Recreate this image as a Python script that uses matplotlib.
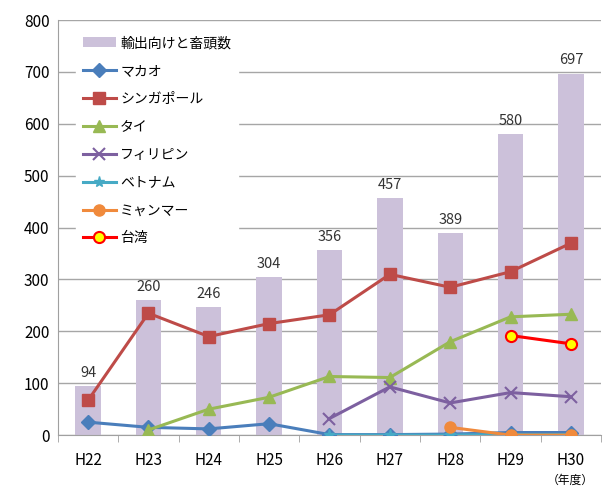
import numpy as np
import matplotlib.pyplot as plt

plt.rcParams['font.family'] = ['Noto Sans CJK JP', 'DejaVu Sans']

years = ['H22', 'H23', 'H24', 'H25', 'H26', 'H27', 'H28', 'H29', 'H30']
total = [94, 260, 246, 304, 356, 457, 389, 580, 697]

nan = np.nan
macau = [25, 15, 12, 22, 1, 1, 2, 5, 5]
singapore = [67, 235, 190, 215, 232, 310, 285, 315, 370]
thai = [nan, 10, 50, 73, 113, 111, 180, 228, 233]
philippines = [nan, nan, nan, nan, 32, 93, 62, 82, 74]
vietnam = [nan, nan, nan, nan, 0, 0, 0, 1, 1]
myanmar = [nan, nan, nan, nan, nan, nan, 15, 0, 0]
taiwan = [nan, nan, nan, nan, nan, nan, nan, 192, 176]

x = np.arange(len(years))

fig = plt.figure(figsize=(6.09, 4.9), dpi=100)
ax = fig.add_axes([0.095, 0.112, 0.892, 0.847])

ax.bar(x, total, width=0.42, color='#ccc1da', label='輸出向けと畜頭数', zorder=2)
for xi, v in zip(x, total):
    ax.text(xi, v + 12, str(v), ha='center', va='bottom', fontsize=10.5, color='#333333')

lw = 2.2
ax.plot(x, macau, color='#4a7ebb', marker='D', ms=7, lw=lw, label='マカオ', zorder=3)
ax.plot(x, singapore, color='#be4b48', marker='s', ms=8, lw=lw, label='シンガポール', zorder=3)
ax.plot(x, thai, color='#98b954', marker='^', ms=8, lw=lw, label='タイ', zorder=3)
ax.plot(x, philippines, color='#7d60a0', marker='x', ms=8, mew=1.5, lw=lw, label='フィリピン', zorder=3)
ax.plot(x, vietnam, color='#46aac5', marker='*', ms=8, lw=lw, label='ベトナム', zorder=3)
ax.plot(x, myanmar, color='#f08a3c', marker='o', ms=8, lw=lw, label='ミャンマー', zorder=3)
ax.plot(x, taiwan, color='#ff0000', marker='o', ms=8, mfc='#ffff00', mec='#ff0000', mew=1.5,
        lw=lw, label='台湾', zorder=4)

ax.set_ylim(0, 800)
ax.set_yticks(range(0, 801, 100))
ax.set_xlim(-0.5, len(years) - 0.5)
ax.set_xticks(x)
ax.set_xticklabels(years)
ax.set_xticks(np.arange(-0.5, len(years), 1), minor=True)
ax.tick_params(axis='x', which='major', length=0, pad=12, labelsize=11)
ax.tick_params(axis='x', which='minor', length=5, color='#a0a0a0')
ax.tick_params(axis='y', length=0, labelsize=11, pad=6)
ax.yaxis.grid(True, color='#a6a6a6', lw=1, zorder=0)
ax.set_axisbelow(True)
for s in ['top', 'right']:
    ax.spines[s].set_visible(False)
ax.spines['left'].set_color('#a0a0a0')
ax.spines['bottom'].set_color('#a0a0a0')

handles, labels = ax.get_legend_handles_labels()
order = [len(handles) - 1] + list(range(len(handles) - 1))
leg = ax.legend([handles[i] for i in order], [labels[i] for i in order],
                loc='upper left', bbox_to_anchor=(0.02, 0.995), frameon=True, fontsize=10,
                handlelength=2.4, labelspacing=1.0, borderpad=0.5, handletextpad=0.3)
leg.get_frame().set_edgecolor('white')
leg.get_frame().set_alpha(1)

fig.text(0.936, 0.02, '（年度）', ha='center', va='center', fontsize=8.5)

fig.savefig('out.png', dpi=100)
